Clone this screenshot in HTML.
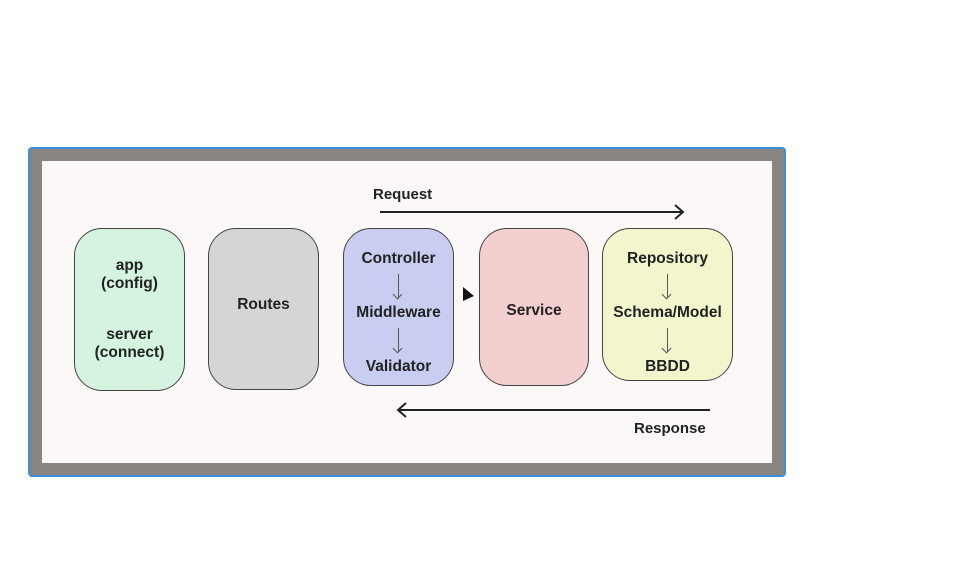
<!DOCTYPE html>
<html><head><style>
body{margin:0;width:968px;height:568px;background:#fff;position:relative;overflow:hidden;font-family:"Liberation Sans",Arial,sans-serif;}
.outer{position:absolute;left:28px;top:147px;width:754px;height:326px;border:2px solid #3a8fd6;border-radius:4px;background:#888583;}
.inner{position:absolute;left:42px;top:161px;width:730px;height:302px;background:#fbf8f7;}
.box{position:absolute;border:1.5px solid #444;border-radius:28px;box-sizing:border-box;display:flex;flex-direction:column;align-items:center;justify-content:center;font-weight:bold;font-size:15.5px;color:#222;text-align:center;line-height:18px;}
.lbl{position:absolute;font-weight:bold;font-size:15px;color:#222;}
.ar{width:1px;height:24px;background:#555;margin:6px 0 6px;position:relative;}
.ar:after{content:"";position:absolute;left:-4px;bottom:0;width:6px;height:6px;border-right:1.3px solid #555;border-bottom:1.3px solid #555;transform:rotate(45deg);transform-origin:center;bottom:0px;}
</style></head><body>
<div class="outer"></div>
<div class="inner"></div>
<div class="box" style="left:74px;top:228px;width:111px;height:163px;background:#d4f3e1;">app<br>(config)<div style="height:33px"></div>server<br>(connect)</div>
<div class="box" style="left:208px;top:228px;width:111px;height:162px;background:#d6d5d3;padding-bottom:8px;">Routes</div>
<div class="box" style="left:343px;top:228px;width:111px;height:158px;background:#c9cdf2;padding-top:11px;">Controller<div class="ar"></div>Middleware<div class="ar"></div>Validator</div>
<div class="box" style="left:479px;top:228px;width:110px;height:158px;background:#f3cfd0;padding-top:8px;">Service</div>
<div class="box" style="left:602px;top:228px;width:131px;height:153px;background:#f3f5cc;padding-top:16px;">Repository<div class="ar"></div>Schema/Model<div class="ar"></div>BBDD</div>
<div class="lbl" style="left:373px;top:186px;">Request</div>
<div class="lbl" style="left:634px;top:420px;">Response</div>
<svg width="968" height="568" style="position:absolute;left:0;top:0">
<g stroke="#222" stroke-width="2" fill="none">
<line x1="380" y1="212" x2="683" y2="212"/><polyline points="675,205 683,212 675,219"/>
<line x1="398" y1="410" x2="710" y2="410"/><polyline points="406,403 398,410 406,417"/>
</g>
<polygon points="463,287 463,301 474,296" fill="#111"/>
</svg>
</body></html>
